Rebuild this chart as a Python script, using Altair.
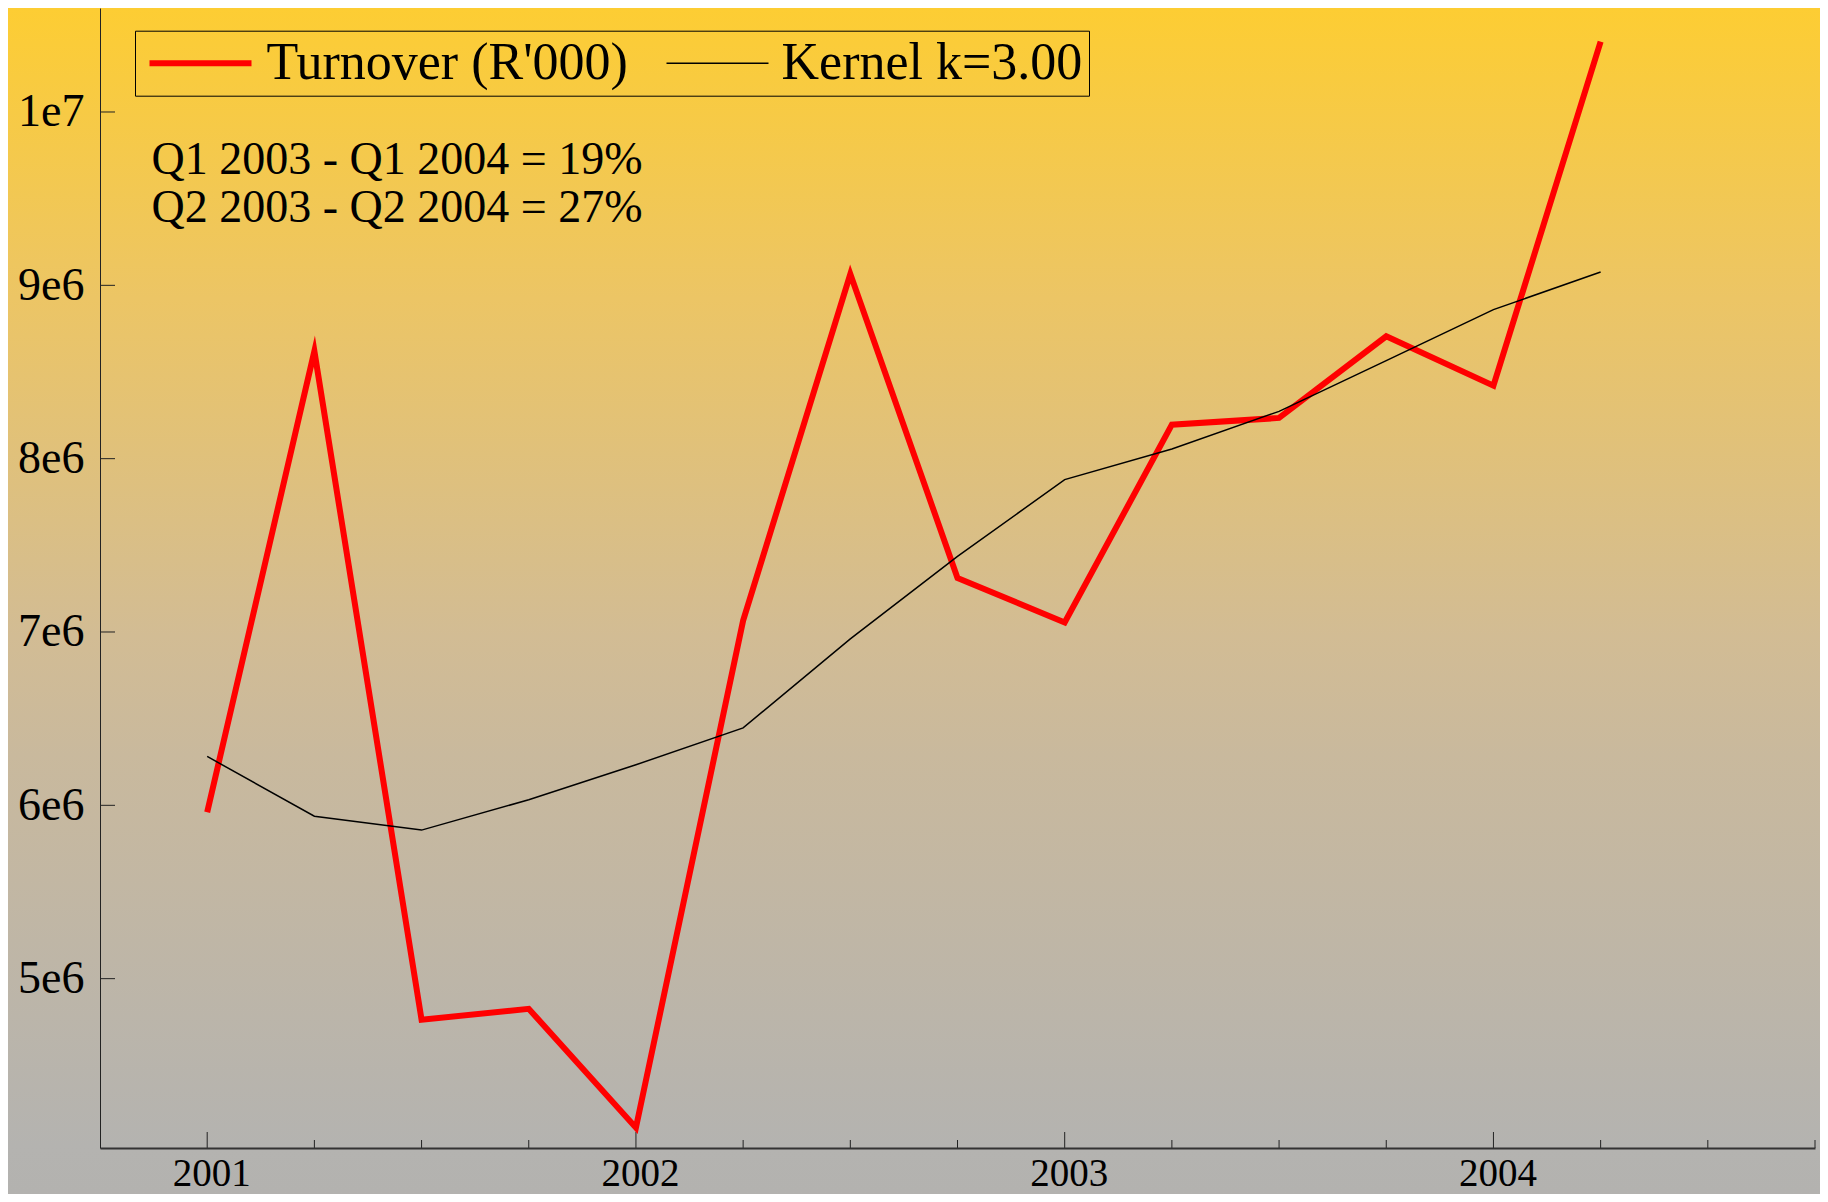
import altair as alt
import pandas as pd

# ---------------- data ----------------
quarters = [2001.00, 2001.25, 2001.50, 2001.75, 2002.00, 2002.25, 2002.50,
            2002.75, 2003.00, 2003.25, 2003.50, 2003.75, 2004.00, 2004.25]
turnover = [5.96e6, 8.62e6, 4.763e6, 4.826e6, 4.14e6, 7.066e6, 9.065e6,
            7.312e6, 7.055e6, 8.196e6, 8.235e6, 8.706e6, 8.421e6, 10.406e6]
kernel = [6.282e6, 5.937e6, 5.857e6, 6.032e6, 6.234e6, 6.447e6, 6.96e6,
          7.436e6, 7.879e6, 8.056e6, 8.273e6, 8.566e6, 8.860e6, 9.077e6]
series_names = ["Turnover (R'000)", "Kernel k=3.00"]
annotation_lines = ["Q1 2003 - Q1 2004 = 19%", "Q2 2003 - Q2 2004 = 27%"]

x_major_ticks = [2001, 2002, 2003, 2004]
x_minor_ticks = [2001.25, 2001.5, 2001.75, 2002.25, 2002.5, 2002.75,
                 2003.25, 2003.5, 2003.75, 2004.25, 2004.5, 2004.75]
y_ticks = [5e6, 6e6, 7e6, 8e6, 9e6, 1e7]
y_tick_labels = ["5e6", "6e6", "7e6", "8e6", "9e6", "1e7"]
x_domain = [2000.75, 2004.75]
y_domain = [4.023e6, 1.06e7]

# ---------------- layout ----------------
W, H = 1715, 1140
PAD = {"left": 92, "top": 0, "right": 5, "bottom": 46}
FONT = "Liberation Serif"

df = pd.DataFrame({
    "t": quarters + quarters,
    "v": turnover + kernel,
    "series": [series_names[0]] * len(quarters) + [series_names[1]] * len(quarters),
})

y_label_expr = " : ".join(
    f"datum.value == {v:.0f} ? '{l}'" for v, l in zip(y_ticks, y_tick_labels)
) + " : ''"

x_axis = alt.Axis(values=x_major_ticks, format="d", title=None, grid=False,
                  ticks=False, tickSize=0, labelFont=FONT, labelFontSize=39,
                  labelColor="black", labelPadding=6, labelOffset=4,
                  domainColor="#333333", domainWidth=2, labelFlush=False, zindex=1)
y_axis = alt.Axis(values=y_ticks, labelExpr=y_label_expr, title=None, grid=False,
                  ticks=False, tickSize=0, labelFont=FONT, labelFontSize=46,
                  labelColor="black", labelPadding=16, domainColor="#222222",
                  domainWidth=1, zindex=1)

x_enc = alt.X("t:Q", scale=alt.Scale(domain=x_domain, nice=False, zero=False), axis=x_axis)
y_enc = alt.Y("v:Q", scale=alt.Scale(domain=y_domain, nice=False, zero=False), axis=y_axis)

gradient = alt.LinearGradient(
    gradient="linear",
    stops=[
        alt.GradientStop(color="#FDCD33", offset=0.0),
        alt.GradientStop(color="#ECC565", offset=0.245),
        alt.GradientStop(color="#D2BC94", offset=0.53),
        alt.GradientStop(color="#C9B99D", offset=0.63),
        alt.GradientStop(color="#B4B3B0", offset=0.96),
        alt.GradientStop(color="#B3B2AF", offset=1.0),
    ],
    x1=0, x2=0, y1=0, y2=1,
)

bg = alt.Chart(alt.Data(values=[{"a": 1}])).mark_rect(fill=gradient, strokeWidth=0).encode(
    x=alt.value(-PAD["left"]), x2=alt.value(W + PAD["right"]),
    y=alt.value(-PAD["top"]), y2=alt.value(H + PAD["bottom"]),
)

ann = alt.Chart(alt.Data(values=[{"label": "\n".join(annotation_lines)}])).mark_text(
    align="left", baseline="alphabetic", font=FONT, fontSize=46,
    lineBreak="\n", lineHeight=47.4, color="black",
).encode(x=alt.value(51.5), y=alt.value(166.3), text="label:N")

major = alt.Chart(pd.DataFrame({"t": x_major_ticks})).mark_rule(color="#222222", strokeWidth=1).encode(
    x=x_enc, y=alt.value(H), y2=alt.value(H - 16))
minor = alt.Chart(pd.DataFrame({"t": x_minor_ticks})).mark_rule(color="#222222", strokeWidth=1).encode(
    x=x_enc, y=alt.value(H), y2=alt.value(H - 8))
yt = alt.Chart(pd.DataFrame({"v": y_ticks})).mark_rule(color="#222222", strokeWidth=1).encode(
    y=y_enc, x=alt.value(0), x2=alt.value(15))

legend = alt.Legend(
    title=None, orient="none", legendX=35, legendY=22.7, direction="horizontal",
    symbolType="stroke", symbolSize=102 * 102, clipHeight=52,
    labelFont=FONT, labelFontSize=52,
    labelColor="black", strokeColor="black", padding=6.5, labelOffset=12,
    columnPadding=32, symbolOffset=5, labelLimit=1000,
)

lines = alt.Chart(df).mark_line(strokeJoin="miter", strokeMiterLimit=10, strokeCap="butt").encode(
    x=x_enc,
    y=y_enc,
    color=alt.Color("series:N", scale=alt.Scale(domain=series_names, range=["#ff0000", "#000000"]),
                    legend=legend),
    strokeWidth=alt.StrokeWidth("series:N", scale=alt.Scale(domain=series_names, range=[6, 1.5]),
                                legend=legend),
)

chart = alt.layer(bg, ann, yt, major, minor, lines).properties(
    width=W, height=H,
    autosize=alt.AutoSizeParams(type="none"),
    padding=PAD,
).configure_view(strokeWidth=0).configure(background="#B3B2AF")

chart.save("out.html", embed_options={"renderer": "svg", "actions": False})
